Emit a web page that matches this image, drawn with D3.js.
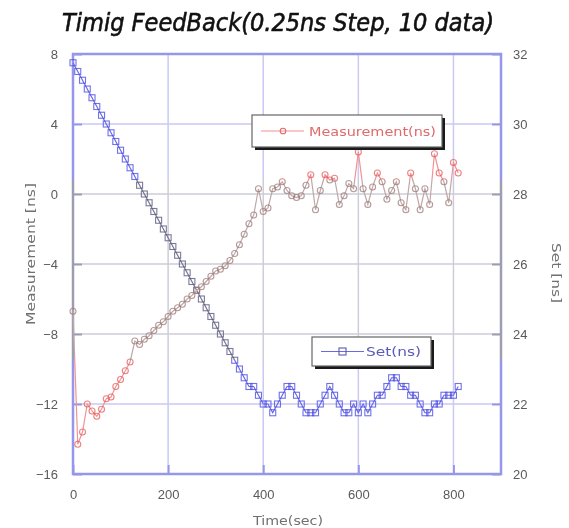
<!DOCTYPE html>
<html>
<head>
<meta charset="utf-8">
<script src="https://cdn.jsdelivr.net/npm/d3@7/dist/d3.min.js"></script>
<style>
  html, body { margin: 0; padding: 0; background: #ffffff; }
  svg { display: block; }
</style>
</head>
<body>
<div id="chart"></div>
<script>
// Sample times (sec), one reading every 10 s
const times = d3.range(0, 820, 10);

// Measured timing offset [ns] (left axis)
const measurement = [
  -6.7, -14.3, -13.6, -12.0, -12.4, -12.7, -12.3, -11.7, -11.6, -11.0,
  -10.6, -10.1, -9.6, -8.4, -8.6, -8.3, -8.1, -7.8, -7.5, -7.3,
  -7.0, -6.7, -6.5, -6.3, -6.0, -5.8, -5.5, -5.3, -5.0, -4.7,
  -4.4, -4.3, -4.1, -3.8, -3.4, -2.9, -2.3, -1.7, -1.2, 0.3,
  -1.0, -0.8, 0.3, 0.4, 0.7, 0.2, -0.1, -0.2, -0.1, 0.5,
  1.1, -0.9, 0.2, 1.1, 0.8, 0.9, -0.6, -0.1, 0.6, 0.3,
  2.4, 0.3, -0.6, 0.4, 1.2, 0.7, -0.3, 0.2, 0.7, -0.5,
  -0.9, 1.2, 0.3, -0.9, 0.3, -0.6, 2.3, 1.2, 0.7, -0.5,
  1.8, 1.2
];

// Delay setting [ns] (right axis), 0.25 ns steps
const setting = [
  31.75, 31.5, 31.25, 31.0, 30.75, 30.5, 30.25, 30.0, 29.75, 29.5,
  29.25, 29.0, 28.75, 28.5, 28.25, 28.0, 27.75, 27.5, 27.25, 27.0,
  26.75, 26.5, 26.25, 26.0, 25.75, 25.5, 25.25, 25.0, 24.75, 24.5,
  24.25, 24.0, 23.75, 23.5, 23.25, 23.0, 22.75, 22.5, 22.5, 22.25,
  22.0, 22.0, 21.75, 22.0, 22.25, 22.5, 22.5, 22.25, 22.0, 21.75,
  21.75, 21.75, 22.0, 22.25, 22.5, 22.25, 22.0, 21.75, 21.75, 22.0,
  21.75, 22.0, 21.75, 22.0, 22.25, 22.25, 22.5, 22.75, 22.75, 22.5,
  22.5, 22.25, 22.25, 22.0, 21.75, 21.75, 22.0, 22.0, 22.25, 22.25,
  22.25, 22.5
];

// Axis ticks
const xTicks = [0, 200, 400, 600, 800];
const leftTicks = [8, 4, 0, -4, -8, -12, -16];
const rightTicks = [32, 30, 28, 26, 24, 22, 20];

const W = 569, H = 528;
const plot = { left: 73, right: 501, top: 54, bottom: 474 };

const x = d3.scaleLinear().domain([0, 900]).range([plot.left, plot.right]);
const yL = d3.scaleLinear().domain([-16, 8]).range([plot.bottom, plot.top]);
const yR = d3.scaleLinear().domain([20, 32]).range([plot.bottom, plot.top]);

const frameColor = "#9696ea";
const gridColor = "#cacaf2";
const redLine = "#f29292";
const redMark = "#e45a5a";
const blueLine = "#6a6ae8";
const blueMark = "#4e4ee2";
const labelColor = "#5a5a5a";

const svg = d3.select("#chart").append("svg")
  .attr("width", W).attr("height", H)
  .style("font-family", "'DejaVu Sans', 'Noto Sans', sans-serif");

svg.append("rect").attr("width", W).attr("height", H).attr("fill", "#ffffff");

// Title
svg.append("text")
  .attr("x", 62).attr("y", 31)
  .attr("textLength", 432).attr("lengthAdjust", "spacingAndGlyphs")
  .style("font-size", "24px").style("font-style", "italic")
  .style("stroke", "#111").style("stroke-width", 0.6)
  .attr("fill", "#111")
  .text("Timig FeedBack(0.25ns Step, 10 data)");

// Grid
const grid = svg.append("g");
grid.selectAll("line.h").data(leftTicks.slice(1, -1)).join("line")
  .attr("x1", plot.left).attr("x2", plot.right)
  .attr("y1", d => yL(d)).attr("y2", d => yL(d))
  .attr("stroke", gridColor).attr("stroke-width", 1.5);
grid.selectAll("line.v").data(xTicks.slice(1)).join("line")
  .attr("y1", plot.top).attr("y2", plot.bottom)
  .attr("x1", d => x(d)).attr("x2", d => x(d))
  .attr("stroke", gridColor).attr("stroke-width", 1.5);

// Axes (inside ticks, labels drawn by d3 axes)
function styleAxis(g) {
  g.select(".domain").remove();
  g.selectAll(".tick line").attr("stroke", frameColor).attr("stroke-width", 2);
  g.selectAll(".tick text").attr("fill", labelColor).style("font-size", "13px");
}

svg.append("g")
  .attr("transform", `translate(0,${plot.bottom})`)
  .call(d3.axisBottom(x).tickValues(xTicks).tickFormat(d3.format("d"))
    .tickSizeInner(-9).tickSizeOuter(0).tickPadding(16))
  .call(styleAxis);

svg.append("g")
  .attr("transform", `translate(${plot.left},0)`)
  .call(d3.axisLeft(yL).tickValues(leftTicks).tickFormat(d3.format("d"))
    .tickSizeInner(-9).tickSizeOuter(0).tickPadding(15))
  .call(styleAxis);

svg.append("g")
  .attr("transform", `translate(${plot.right},0)`)
  .call(d3.axisRight(yR).tickValues(rightTicks).tickFormat(d3.format("d"))
    .tickSizeInner(-9).tickSizeOuter(0).tickPadding(12))
  .call(styleAxis);

// Frame
svg.append("rect")
  .attr("x", plot.left).attr("y", plot.top)
  .attr("width", plot.right - plot.left).attr("height", plot.bottom - plot.top)
  .attr("fill", "none").attr("stroke", frameColor).attr("stroke-width", 2.5);

// Series
const setPts = times.map((t, i) => [x(t), yR(setting[i])]);
const measPts = times.map((t, i) => [x(t), yL(measurement[i])]);
const line = d3.line();

svg.append("path").attr("d", line(setPts))
  .attr("fill", "none").attr("stroke", blueLine).attr("stroke-width", 1.2);
svg.append("g").selectAll("rect").data(setPts).join("rect")
  .attr("x", d => d[0] - 3).attr("y", d => d[1] - 3)
  .attr("width", 6).attr("height", 6)
  .attr("fill", "none").attr("stroke", blueMark).attr("stroke-width", 1.1).attr("stroke-opacity", 0.8);

svg.append("path").attr("d", line(measPts))
  .attr("fill", "none").attr("stroke", redLine).attr("stroke-width", 1.2);
svg.append("g").selectAll("circle").data(measPts).join("circle")
  .attr("cx", d => d[0]).attr("cy", d => d[1]).attr("r", 3)
  .attr("fill", "none").attr("stroke", redMark).attr("stroke-width", 1.1).attr("stroke-opacity", 0.75);

// Washed-out band across the middle of the plot
svg.append("rect")
  .attr("x", 14).attr("y", 180).attr("width", 530).attr("height", 180)
  .attr("fill", "#8a8a8a").attr("opacity", 0.75)
  .style("mix-blend-mode", "saturation");

// Axis titles
svg.append("text")
  .attr("transform", "translate(35,254) rotate(-90)")
  .attr("text-anchor", "middle")
  .attr("textLength", 142).attr("lengthAdjust", "spacingAndGlyphs")
  .style("font-size", "12px").attr("fill", "#707070")
  .text("Measurement [ns]");

svg.append("text")
  .attr("transform", "translate(552,273) rotate(90)")
  .attr("text-anchor", "middle")
  .attr("textLength", 60).attr("lengthAdjust", "spacingAndGlyphs")
  .style("font-size", "12px").attr("fill", "#707070")
  .text("Set [ns]");

svg.append("text")
  .attr("x", 288).attr("y", 525)
  .attr("text-anchor", "middle")
  .attr("textLength", 70).attr("lengthAdjust", "spacingAndGlyphs")
  .style("font-size", "13px").attr("fill", "#707070")
  .text("Time(sec)");

// Legends
function legend(bx, by, bw, bh, color, markColor, marker, label, tx, tw) {
  const g = svg.append("g");
  g.append("rect").attr("x", bx + 3).attr("y", by + 3).attr("width", bw).attr("height", bh)
    .attr("fill", "#1a1a1a");
  g.append("rect").attr("x", bx).attr("y", by).attr("width", bw).attr("height", bh)
    .attr("fill", "#ffffff").attr("stroke", "#666").attr("stroke-width", 1.2);
  const cy = by + bh / 2;
  g.append("line").attr("x1", bx + 9).attr("x2", bx + 52).attr("y1", cy).attr("y2", cy)
    .attr("stroke", color).attr("stroke-width", 1.2);
  if (marker === "circle") {
    g.append("circle").attr("cx", bx + 31).attr("cy", cy).attr("r", 2.8)
      .attr("fill", "none").attr("stroke", markColor).attr("stroke-width", 1.1);
  } else {
    g.append("rect").attr("x", bx + 27).attr("y", cy - 3.5).attr("width", 7).attr("height", 7)
      .attr("fill", "none").attr("stroke", markColor).attr("stroke-width", 1.1);
  }
  g.append("text").attr("x", tx).attr("y", cy + 4.5)
    .attr("textLength", tw).attr("lengthAdjust", "spacingAndGlyphs")
    .style("font-size", "12px").attr("fill", markColor)
    .text(label);
}
legend(252, 115, 190, 32, redLine, "#e06a6a", "circle", "Measurement(ns)", 309, 127);
legend(312, 337, 119, 29, blueLine, "#5a5ab8", "rect", "Set(ns)", 366, 55);
</script>
</body>
</html>
